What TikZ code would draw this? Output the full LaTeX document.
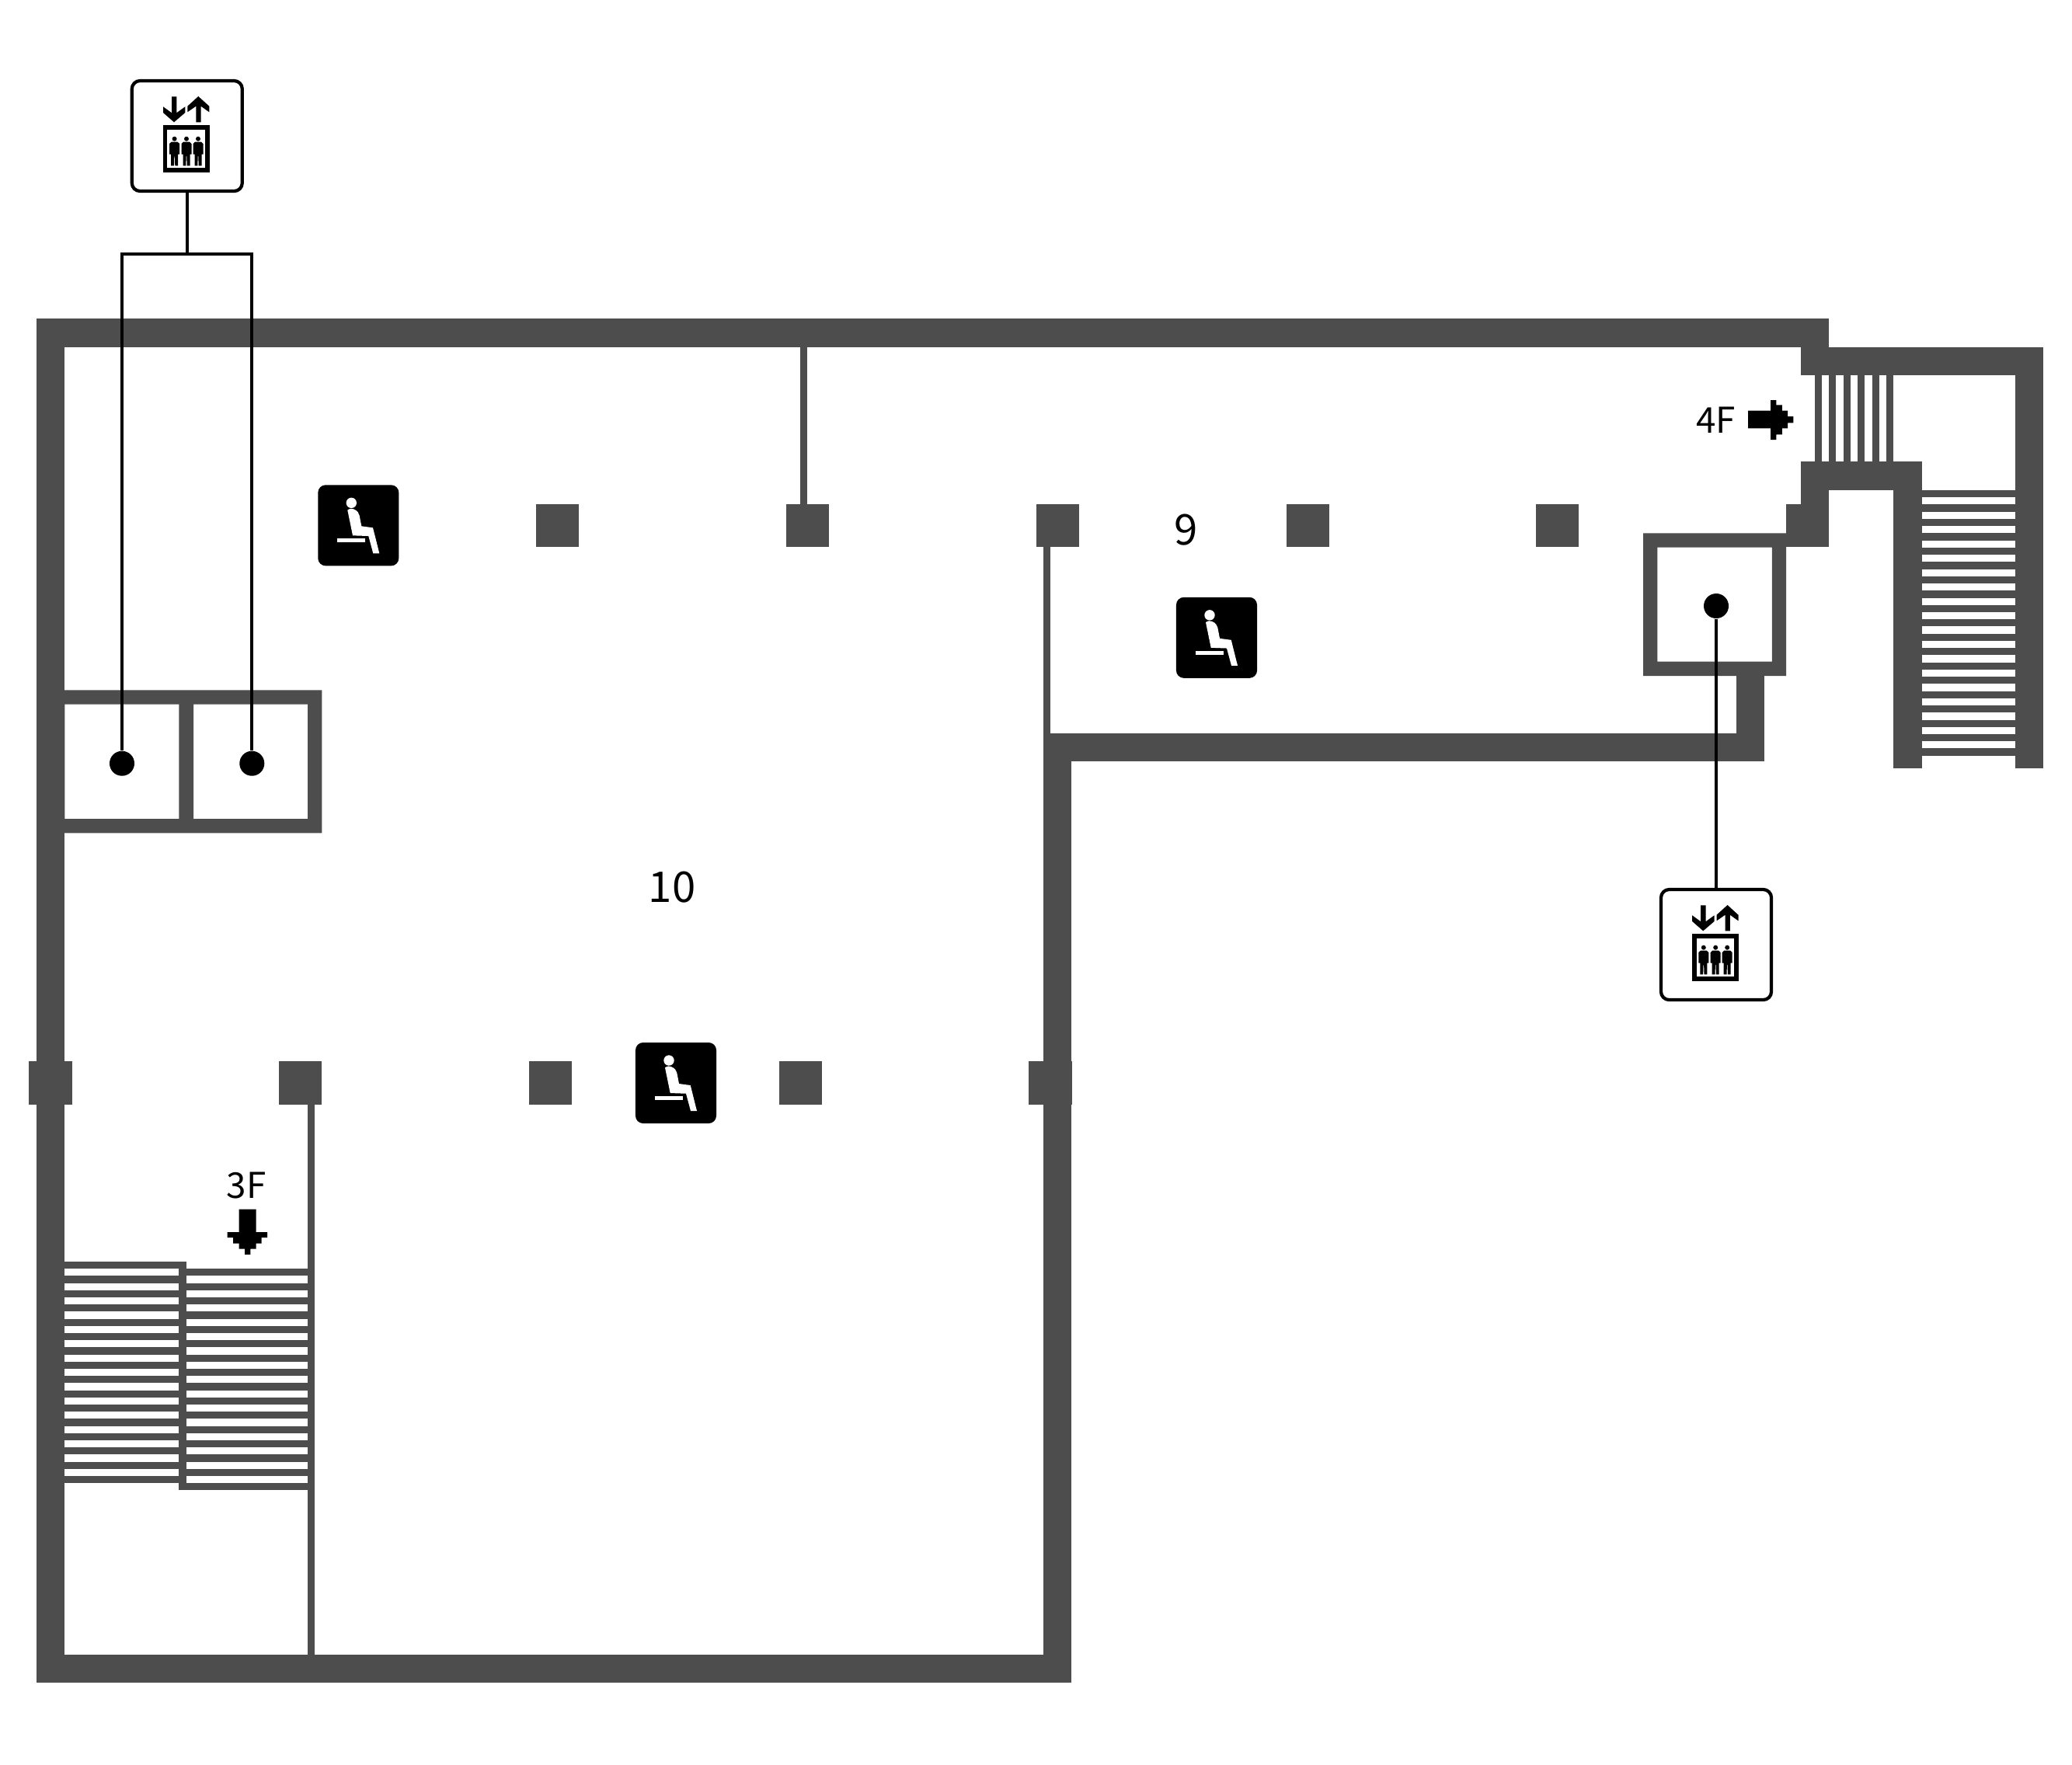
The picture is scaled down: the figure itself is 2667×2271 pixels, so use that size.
\documentclass[tikz,border=0pt]{standalone}
\usepackage{fontspec}
\setmainfont{Noto Sans CJK JP}
\definecolor{wallgray}{HTML}{4D4D4D}
\tikzset{%
    lifticon/.pic={%
        \draw[black, line width=1.7pt] (-28.3,-10.7) rectangle (26.2,43.8);
        \fill[black] (-19.8,-50.7) -- (-13.5,-50.7) -- (-13.5,-29.7) -- (-2.5,-37.7) -- (-2.5,-30) -- (-16.8,-17.7) -- (-30.8,-30) -- (-30.8,-37.7) -- (-19.8,-29.7) -- cycle;
        \fill[black] (14.5,-51) -- (28.5,-38.3) -- (28.5,-30.7) -- (17.8,-38.3) -- (17.8,-17.7) -- (11.5,-17.7) -- (11.5,-38.3) -- (0.5,-30.7) -- (0.5,-38.3) -- cycle;
        \foreach \px in {-16.2,-0.8,14.2} {
            \fill[black, shift={(\px,0)}] (0,3.7) circle (3);
            \fill[black, shift={(\px,0)}] (-4,7.7) -- (4,7.7) -- (6.5,10) -- (6.5,23.5) -- (4.5,23.5) -- (4.5,38.3) -- (0.7,38.3) -- (0.3,26) -- (-0.3,26) -- (-0.7,38.3) -- (-4.5,38.3) -- (-4.5,23.5) -- (-6.5,23.5) -- (-6.5,10) -- cycle;
        }
    },
    seaticon/.pic={%
        \fill[white] (-9,-29) circle (6.7);
        \fill[white] (-14,-19.7) .. controls (-11,-22) and (-8,-22) .. (-6.3,-21) .. controls (-1,-19) and (0.5,-16) .. (1.3,-13) -- (4,1) -- (18.7,3) -- (27,36) -- (19,36) -- (13,13.7) -- (-7.3,13) -- cycle;
        \fill[white] (-27,16.7) rectangle (8.7,21.7);
    },
    liftsign/.style={draw=black, fill=white, line width=1.2pt, rounded corners=3pt, minimum size=1.42cm, inner sep=0pt},
    seatsign/.style={fill=black, rounded corners=2.8pt, minimum size=1.04cm, inner sep=0pt},
    liftdot/.style={circle, fill=black, minimum size=0.32cm, inner sep=0pt},
    lead/.style={black, line width=1.2pt},
    floorlabel/.style={inner sep=0pt, font=\fontsize{13}{13}\selectfont},
    roomlabel/.style={inner sep=0pt, font=\fontsize{15.5}{15.5}\selectfont}
}
\begin{document}
\begin{tikzpicture}[x=0.01cm, y=-0.01cm]
    \useasboundingbox (0,0) rectangle (2667,2271);

    % walls
    \fill[wallgray] (46.7,410.3) rectangle (83.3,2166);
    \fill[wallgray] (46.7,410.3) rectangle (2353.8,447);
    \fill[wallgray] (46.7,2130) rectangle (1379.3,2166);
    \fill[wallgray] (1342.7,943.7) rectangle (1379.3,2166);
    \fill[wallgray] (1342.7,943.7) rectangle (2271.4,980.3);
    \fill[wallgray] (2235.1,860) rectangle (2271.4,980.3);
    \fill[wallgray] (2317.5,410.3) rectangle (2353.8,483.4);
    \fill[wallgray] (2317.5,447) rectangle (2630,483.4);
    \fill[wallgray] (2593.5,447) rectangle (2630,989);
    \fill[wallgray] (2317.5,594.1) rectangle (2473.8,631);
    \fill[wallgray] (2317.5,594.1) rectangle (2353.8,660);
    \fill[wallgray] (2437.2,594.1) rectangle (2473.8,989);

    % thin walls
    \fill[wallgray] (1030.3,447) rectangle (1039.3,660);
    \fill[wallgray] (1342.7,690) rectangle (1352.3,950);
    \fill[wallgray] (396,1400) rectangle (405,2135);

    % lift shafts
    \fill[wallgray, even odd rule] (2115,686.3) rectangle (2299,870) (2133.3,704.5) rectangle (2280.8,851.6);
    \fill[wallgray, even odd rule] (70,888.3) rectangle (414.3,1072.3) (83.3,906.7) rectangle (230.3,1054) (249,906.7) rectangle (396,1054);

    % columns
    \foreach \cx in {690,1011.7,1333.5,1655.5,1977,2299}
        \fill[wallgray] (\cx,649.3) rectangle ++(55.3,55);
    \foreach \cx in {37.3,359,681,1003,1324.3}
        \fill[wallgray] (\cx,1366.3) rectangle ++(55.2,55.3);

    % stairs
    \foreach \st in {0,...,18}
        \fill[wallgray] (2473.8,631+18.47*\st) rectangle (2593.5,631+18.47*\st+9.2);
    \foreach \st in {0,...,5}
        \fill[wallgray] (2335.6+18.5*\st,483.4) rectangle (2335.6+18.5*\st+9.2,594.1);
    \foreach \st in {0,...,15} {
        \fill[wallgray] (83.3,1624+18.39*\st) rectangle (230.3,1624+18.39*\st+9.2);
        \fill[wallgray] (239.7,1633.2+18.39*\st) rectangle (396,1633.2+18.39*\st+9.2);
    }
    \fill[wallgray] (230.3,1624) rectangle (239.7,1918.3);

    % floor arrows
    \fill[black] (2250,528.5) -- (2279,528.5) -- (2279,515) -- (2286.4,515) -- (2286.4,521.4) -- (2293.8,521.4) -- (2293.8,528.5) -- (2301,528.5) -- (2301,536) -- (2308.4,536) -- (2308.4,544.3) -- (2301,544.3) -- (2301,551.4) -- (2293.8,551.4) -- (2293.8,559.4) -- (2286.4,559.4) -- (2286.4,566) -- (2279,566) -- (2279,551.4) -- (2250,551.4) -- cycle;
    \fill[black] (307.7,1556.7) -- (329.7,1556.7) -- (329.7,1586) -- (344,1586) -- (344,1593) -- (336.7,1593) -- (336.7,1600.7) -- (329.7,1600.7) -- (329.7,1607.6) -- (322.3,1607.6) -- (322.3,1614.8) -- (315,1614.8) -- (315,1607.6) -- (307.7,1607.6) -- (307.7,1600.7) -- (300,1600.7) -- (300,1593) -- (292.7,1593) -- (292.7,1586) -- (307.7,1586) -- cycle;

    % labels
    \node[floorlabel] (upfloor) at (2208.5,541) {4F};
    \node[floorlabel] (downfloor) at (317,1525.5) {3F};
    \node[roomlabel] (roomten) at (865,1141.7) {10};
    \node[roomlabel] (roomnine) at (1527,682) {9};

    % seats
    \node[seatsign] (seatA) at (461.3,676.3) {};
    \pic at (seatA) {seaticon};
    \node[seatsign] (seatB) at (1566,820.8) {};
    \pic at (seatB) {seaticon};
    \node[seatsign] (seatC) at (870,1394) {};
    \pic at (seatC) {seaticon};

    % lifts
    \node[liftsign] (signA) at (240.8,175) {};
    \pic at (signA) {lifticon};
    \node[liftsign] (signB) at (2209,1216) {};
    \pic at (signB) {lifticon};
    \node[liftdot] (dotA) at (157,982.7) {};
    \node[liftdot] (dotB) at (324.3,982.7) {};
    \node[liftdot] (dotC) at (2209,780) {};
    \coordinate (branch) at (240.8,326.6);
    \draw[lead] (signA) -- (branch);
    \draw[lead] (dotA) |- (branch) -| (dotB);
    \draw[lead] (dotC) -- (signB);
\end{tikzpicture}
\end{document}
